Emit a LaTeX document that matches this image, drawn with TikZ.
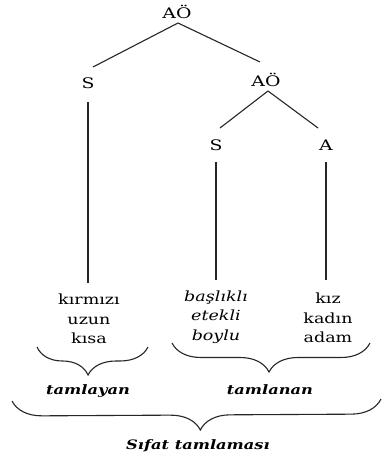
\documentclass[tikz,border=0pt]{standalone}
\usepackage{fontspec}
\setmainfont{DejaVu Serif}
\newfontfamily\widefont[FakeStretch=1.25]{DejaVu Serif}
\newfontfamily\widerfont[FakeStretch=1.3]{DejaVu Serif}
\usetikzlibrary{decorations.pathreplacing}
\begin{document}
\begin{tikzpicture}[x=1pt,y=-1pt,
  lab/.style={inner sep=0pt,font=\widerfont\fontsize{14.5}{16}\selectfont},
  word/.style={inner sep=0pt,align=center,font=\widefont\fontsize{14}{19.5}\selectfont},
  iword/.style={word,font=\widefont\fontsize{14}{19.5}\selectfont\itshape},
  tlabel/.style={inner sep=0pt,font=\widefont\fontsize{13}{15}\selectfont\bfseries\itshape},
  edge/.style={line width=1.1pt,draw=black!85},
  br/.style 2 args={line width=1.1pt,draw=black!85,decorate,decoration={brace,mirror,amplitude=#1,aspect=#2}}]
\useasboundingbox (0,0) rectangle (382,462);
\fill[white] (0,0) rectangle (382,462);
\node[lab] (r) at (177,12) {AÖ};
\node[lab] (s1) at (88,83) {S};
\node[lab] (a2) at (266,80) {AÖ};
\node[lab] (s2) at (216,145) {S};
\node[lab] (a3) at (326,145) {A};
\coordinate (rb) at (178,23);
\coordinate (a2b) at (268,91);
\draw[edge] (rb) -- (93,67) coordinate (s1t);
\draw[edge] (rb) -- (260,62) coordinate (a2t);
\draw[edge] (a2b) -- (220,128) coordinate (s2t);
\draw[edge] (a2b) -- (318,128) coordinate (a3t);
\node[word] (w1) at (89,319) {kırmızı\\uzun\\kısa};
\node[iword] (w2) at (216,317) {başlıklı\\etekli\\boylu};
\node[word] (w3) at (328,318) {kız\\kadın\\adam};
\draw[edge] (88,102) coordinate (s1b) -- (88,283) coordinate (w1t);
\draw[edge] (216,162) coordinate (s2b) -- (216,280) coordinate (w2t);
\draw[edge] (326,162) coordinate (a3b) -- (326,280) coordinate (w3t);
\coordinate (b1l) at (37,347); \coordinate (b1r) at (148,347);
\coordinate (b2l) at (172,343); \coordinate (b2r) at (370,343);
\coordinate (b3l) at (12,401); \coordinate (b3r) at (381,399);
\draw[br={28}{0.46}] (b1l) -- (b1r);
\draw[br={29}{0.49}] (b2l) -- (b2r);
\draw[br={30}{0.51}] (b3l) -- (b3r);
\node[tlabel] (t1) at (88,391) {tamlayan};
\node[tlabel] (t2) at (270,390) {tamlanan};
\node[tlabel] (t3) at (198,446) {Sıfat tamlaması};
\end{tikzpicture}
\end{document}
